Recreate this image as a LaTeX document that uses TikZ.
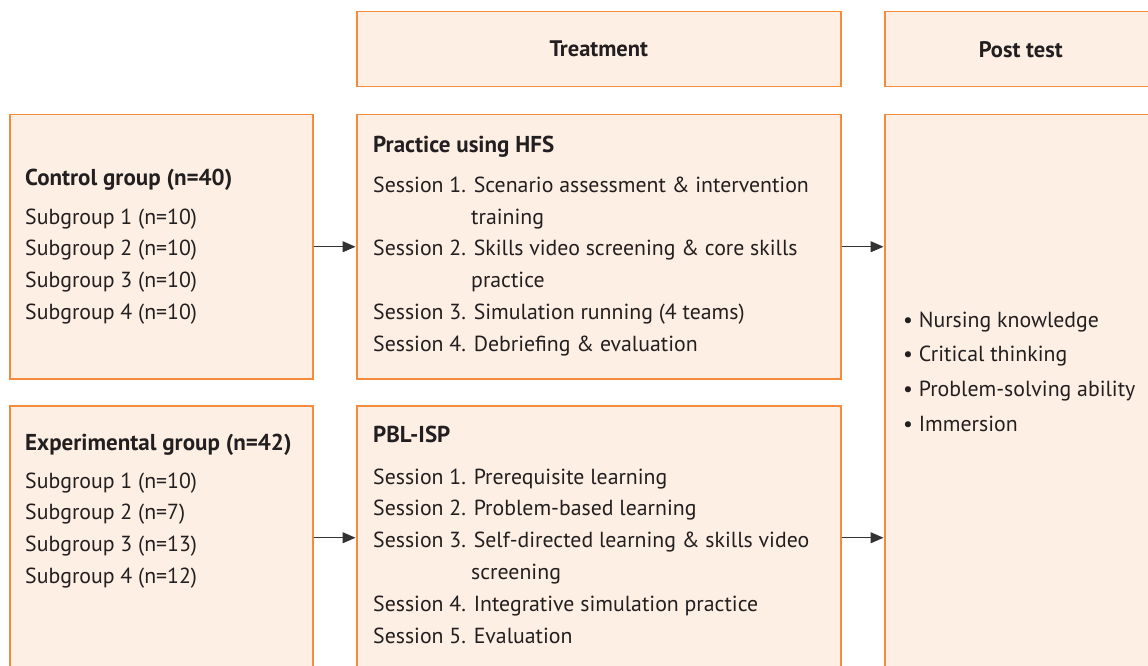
\documentclass[tikz,border=0pt]{standalone}
\usepackage{fontspec}
\setmainfont{PT Sans}
\usetikzlibrary{arrows.meta}
\definecolor{boxfill}{HTML}{FDEFE3}
\definecolor{boxline}{HTML}{F58A3A}
\definecolor{txt}{HTML}{231F20}
\definecolor{arrowc}{HTML}{333333}
\tikzset{
  box/.style={draw=boxline, fill=boxfill, line width=1.5pt, anchor=north west, inner sep=0pt},
  lbl/.style={anchor=base west, inner sep=0pt, text=txt, font=\fontsize{21.8}{25}\selectfont},
  ttl/.style={lbl, font=\fontsize{23}{25}\selectfont\bfseries},
  hdr/.style={inner sep=0pt, text=txt, font=\fontsize{22.5}{25}\selectfont\bfseries},
  arr/.style={draw=arrowc, line width=1.2pt, -{Triangle[length=13pt,width=11pt]}, shorten >=0.5pt}
}
\begin{document}
\begin{tikzpicture}[x=1pt,y=-1pt]
\useasboundingbox (0,0) rectangle (1148,666);
\clip (0,0) rectangle (1148,666);
% header boxes
\node[box, minimum width=484pt, minimum height=75pt] (treat) at (356,11) {};
\node[box, minimum width=290pt, minimum height=75pt] (posth) at (884,11) {};
\node[hdr] (treatT) at (treat.center) {Treatment};
\node[hdr] (posthT) at ([xshift=-9pt]posth.center) {Post test};
% row 1
\node[box, minimum width=303pt, minimum height=264pt] (ctrl) at (9,114) {};
\node[box, minimum width=484pt, minimum height=264pt] (prac) at (356,114) {};
% row 2
\node[box, minimum width=303pt, minimum height=264pt] (exp) at (9,405) {};
\node[box, minimum width=484pt, minimum height=264pt] (pbl) at (356,405) {};
% post box
\node[box, minimum width=290pt, minimum height=570pt] (post) at (884,114) {};
% control text
\node[ttl] (c0) at (25,185) {Control group (n=40)};
\node[lbl] (c1) at (25,224) {Subgroup 1 (n=10)};
\node[lbl] (c2) at (25,255) {Subgroup 2 (n=10)};
\node[lbl] (c3) at (25,287) {Subgroup 3 (n=10)};
\node[lbl] (c4) at (25,319) {Subgroup 4 (n=10)};
% experimental text
\node[ttl] (e0) at (25,450) {Experimental group (n=42)};
\node[lbl] (e1) at (25,488) {Subgroup 1 (n=10)};
\node[lbl] (e2) at (25,519) {Subgroup 2 (n=7)};
\node[lbl] (e3) at (25,551) {Subgroup 3 (n=13)};
\node[lbl] (e4) at (25,583) {Subgroup 4 (n=12)};
% practice text
\node[ttl] (p0) at (373,152) {Practice using HFS};
\node[lbl] (p1) at (373,192) {Session 1. Scenario assessment \& intervention};
\node[lbl] (p1b) at (471,224) {training};
\node[lbl] (p2) at (373,255) {Session 2. Skills video screening \& core skills};
\node[lbl] (p2b) at (471,287) {practice};
\node[lbl] (p3) at (373,319) {Session 3. Simulation running (4 teams)};
\node[lbl] (p4) at (373,351) {Session 4. Debriefing \& evaluation};
% PBL text
\node[ttl] (b0) at (373,442) {PBL-ISP};
\node[lbl] (b1) at (373,484) {Session 1. Prerequisite learning};
\node[lbl] (b2) at (373,515) {Session 2. Problem-based learning};
\node[lbl] (b3) at (373,547) {Session 3. Self-directed learning \& skills video};
\node[lbl] (b3b) at (471,579) {screening};
\node[lbl] (b4) at (373,611) {Session 4. Integrative simulation practice};
\node[lbl] (b5) at (373,643) {Session 5. Evaluation};
% post test bullets
\node[lbl] (o1) at (903,327) {\textbullet\ Nursing knowledge};
\node[lbl] (o2) at (903,361) {\textbullet\ Critical thinking};
\node[lbl] (o3) at (903,396) {\textbullet\ Problem-solving ability};
\node[lbl] (o4) at (903,431) {\textbullet\ Immersion};
% arrows
\draw[arr] (ctrl.east) -- (prac.west);
\draw[arr] (exp.east) -- (pbl.west);
\draw[arr] (prac.east) -- (post.west |- prac.east);
\draw[arr] (pbl.east) -- (post.west |- pbl.east);
\end{tikzpicture}
\end{document}
